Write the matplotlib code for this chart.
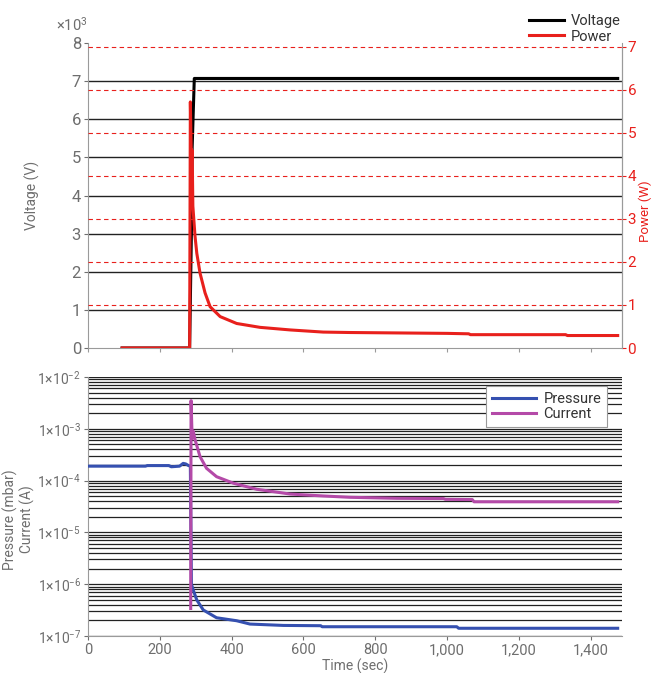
import numpy as np
import matplotlib
matplotlib.use("Agg")
import matplotlib.pyplot as plt
from matplotlib.lines import Line2D
from matplotlib.ticker import FuncFormatter, FixedLocator, LogLocator

plt.rcParams["font.family"] = ["Roboto", "DejaVu Sans"]
plt.rcParams["mathtext.fontset"] = "custom"
plt.rcParams["mathtext.rm"] = "Roboto"
plt.rcParams["mathtext.it"] = "Roboto"

GRAY = "#6e6e6e"
RED = "#e8201c"
BLUE = "#3550b0"
PURPLE = "#b44aa8"

# Top panel: voltage (V) and power (W) vs time (s)
volt_t = [95, 283, 289, 290, 296, 1475]
volt_v = [0, 0, 3700, 5250, 7070, 7070]

power_t = [95, 283, 285, 288, 290, 292, 298, 303, 312, 326, 340, 368, 414, 479,
           563, 655, 730, 1000, 1060, 1065, 1330, 1335, 1475]
power_w = [0, 0, 5.72, 4.3, 4.6, 3.3, 2.6, 2.2, 1.74, 1.28, 0.96, 0.73, 0.57, 0.48,
           0.42, 0.37, 0.36, 0.34, 0.33, 0.31, 0.31, 0.29, 0.29]

# Bottom panel: pressure (mbar) and current (A) vs time (s)
press_t = [0, 160, 165, 225, 232, 255, 265, 272, 280, 285, 288, 293, 303, 321,
           358, 414, 451, 544, 648, 652, 1027, 1032, 1475]
press_v = [1.9e-4, 1.9e-4, 1.95e-4, 1.95e-4, 1.85e-4, 1.9e-4, 2.15e-4, 2.1e-4,
           1.95e-4, 1.9e-4, 1.0e-6, 7.7e-7, 4.95e-7, 3.18e-7, 2.25e-7, 1.97e-7,
           1.7e-7, 1.6e-7, 1.58e-7, 1.51e-7, 1.51e-7, 1.41e-7, 1.41e-7]

curr_t = [286, 287, 290, 293, 298, 312, 330, 358, 405, 470, 563, 655, 730, 860,
          990, 995, 1070, 1075, 1475]
curr_v = [3.4e-7, 3.5e-3, 6.5e-4, 9e-4, 6.2e-4, 2.9e-4, 1.73e-4, 1.19e-4, 8.9e-5,
          6.8e-5, 5.5e-5, 5.05e-5, 4.76e-5, 4.55e-5, 4.5e-5, 4.35e-5, 4.3e-5,
          3.9e-5, 3.9e-5]

volt_ticks = [0, 1000, 2000, 3000, 4000, 5000, 6000, 7000, 8000]
power_ticks = [0, 1, 2, 3, 4, 5, 6, 7]
time_ticks = [0, 200, 400, 600, 800, 1000, 1200, 1400]

fig = plt.figure(figsize=(6.52, 6.73), dpi=100)
L, W = 88 / 652, 534 / 652
ax1 = fig.add_axes([L, 1 - 348 / 673, W, 305 / 673])
ax2 = ax1.twinx()
ax3 = fig.add_axes([L, 1 - 636 / 673, W, 259 / 673])

XMAX = 1487

# ---- top panel ----
for v in volt_ticks[1:-1]:
    ax1.axhline(v, color="#222222", lw=1.0, zorder=1)
ax1.plot(volt_t, volt_v, color="black", lw=2.2, zorder=3)
ax1.set_xlim(0, XMAX)
ax1.set_ylim(0, 8000)
ax1.yaxis.set_major_locator(FixedLocator(volt_ticks))
ax1.yaxis.set_major_formatter(FuncFormatter(lambda v, p: f"{v / 1000:g}"))
ax1.set_xticks(time_ticks)
ax1.set_xticklabels([])
ax1.set_ylabel("Voltage (V)", color=GRAY, fontsize=10)
ax1.yaxis.set_label_coords(-0.09, 0.5)
fig.text(56 / 652, 1 - 31 / 673, r"$\times10^{3}$", color=GRAY, fontsize=10.5)

for w in power_ticks[1:]:
    ax2.axhline(w, color=RED, lw=0.8, ls=(0, (4, 3)), zorder=1)
ax2.plot(power_t, power_w, color=RED, lw=2.2, zorder=4)
ax2.set_ylim(0, 7.09)
ax2.set_yticks(power_ticks)
ax2.set_ylabel("Power (W)", color=RED, fontsize=9.5)
ax2.yaxis.set_label_coords(1.031, 0.45)
ax2.tick_params(axis="y", colors=RED, labelsize=11, length=3, width=0.8, pad=1)
ax2.spines["right"].set_bounds(0, 7)

for a in (ax1, ax2):
    a.spines["top"].set_visible(False)
    for s in ("left", "right", "bottom"):
        a.spines[s].set_color("#9a9a9a")
ax2.spines["left"].set_visible(False)
ax2.spines["bottom"].set_visible(False)
ax1.tick_params(axis="y", colors=GRAY, labelsize=12, length=3, width=0.8, pad=2)
ax1.tick_params(axis="x", colors="#9a9a9a", length=3, width=0.8)

handles = [Line2D([], [], color="black", lw=2.2), Line2D([], [], color=RED, lw=2.2)]
fig.legend(handles, ["Voltage", "Power"], loc="upper right",
           bbox_to_anchor=(634 / 652, 1 - 1 / 673), frameon=False, fontsize=10.5,
           handlelength=2.4, handletextpad=0.5, labelspacing=0.1, labelcolor="#333333")

# ---- bottom panel ----
ax3.set_yscale("log")
ax3.set_xlim(0, XMAX)
ax3.set_ylim(1e-7, 1e-2)
ax3.yaxis.set_major_locator(LogLocator(base=10, numticks=10))
ax3.yaxis.set_minor_locator(LogLocator(base=10, subs=np.arange(2, 10), numticks=10))
ax3.grid(True, which="both", axis="y", color="#222222", lw=0.9)
ax3.set_axisbelow(True)
ax3.plot(press_t, press_v, color=BLUE, lw=2.2, label="Pressure", zorder=3)
ax3.plot(curr_t, curr_v, color=PURPLE, lw=2.2, label="Current", zorder=3)
ax3.yaxis.set_major_formatter(FuncFormatter(
    lambda v, p: r"$1{\times}10^{%d}$" % int(round(np.log10(v)))))
ax3.set_xticks(time_ticks)
ax3.xaxis.set_major_formatter(FuncFormatter(lambda v, p: f"{int(v):,}"))
ax3.tick_params(axis="y", which="minor", length=0)
ax3.tick_params(axis="y", which="major", colors=GRAY, labelsize=10, length=3,
                width=0.8, pad=2)
ax3.tick_params(axis="x", colors=GRAY, labelsize=10.5, length=3, width=0.8, pad=2)
for s in ("top", "right"):
    ax3.spines[s].set_visible(False)
for s in ("left", "bottom"):
    ax3.spines[s].set_color("#9a9a9a")
ax3.set_xlabel("Time (sec)", color=GRAY, fontsize=10, labelpad=1)
ax3.set_ylabel("Pressure (mbar)\nCurrent (A)", color=GRAY, fontsize=10,
               linespacing=1.1)
ax3.yaxis.set_label_coords(-0.1, 0.45)
leg = ax3.legend(loc="upper right", bbox_to_anchor=(607 / 652, 1 - 386 / 673),
                 bbox_transform=fig.transFigure, borderaxespad=0, fontsize=10.5,
                 handlelength=3.0, handletextpad=0.5, labelspacing=0.1,
                 fancybox=False, framealpha=1, edgecolor="#9a9a9a",
                 borderpad=0.4, labelcolor="#333333")
leg.get_frame().set_linewidth(0.8)

fig.savefig("out.png", dpi=100)
